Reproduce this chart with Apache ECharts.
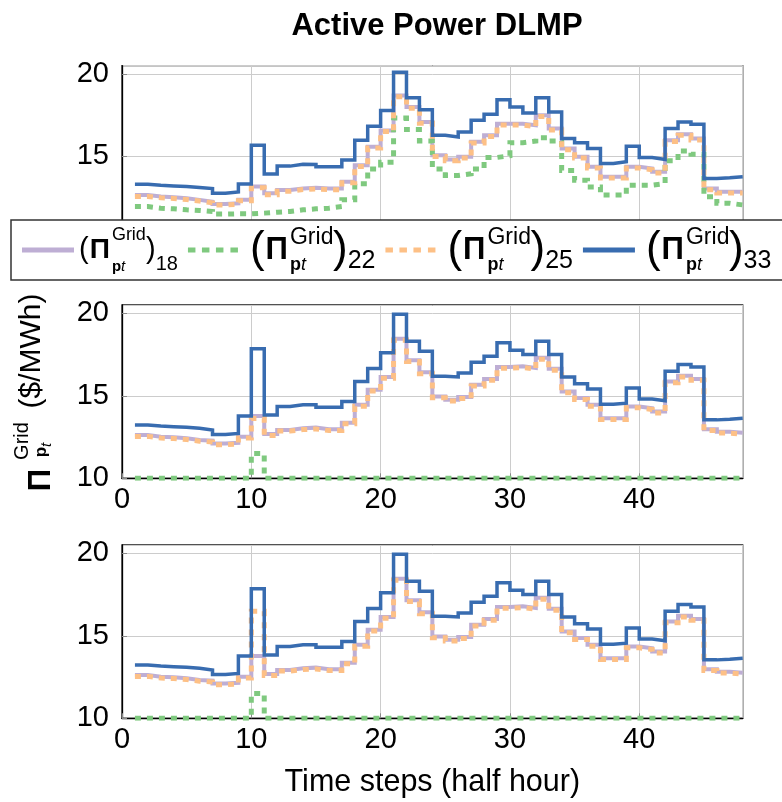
<!DOCTYPE html>
<html>
<head>
<meta charset="utf-8">
<script src="https://cdn.jsdelivr.net/npm/echarts@6/dist/echarts.min.js"></script>
<style>
  html, body { margin: 0; padding: 0; background: #fff; }
  #chart { width: 782px; height: 802px; }
</style>
</head>
<body>
<div id="chart"></div>
<script>
// Half-hour time steps of the day
const timeSteps = [1,2,3,4,5,6,7,8,9,10,11,12,13,14,15,16,17,18,19,20,21,22,23,24,
  25,26,27,28,29,30,31,32,33,34,35,36,37,38,39,40,41,42,43,44,45,46,47,48];

const xTicks = [0, 10, 20, 30, 40];
const yTicks = [10, 15, 20];
const busNames = ['18', '22', '25', '33'];

// Case 1 (top panel): DLMP at buses 18, 22, 25, 33 ($/MWh)
const bus18Top = [12.61,12.51,12.47,12.41,12.31,12.20,12.06,12.10,12.31,13.12,12.71,12.91,13.00,13.05,13.00,13.00,
  13.42,14.43,15.55,16.55,18.68,17.98,17.06,15.04,14.78,14.94,15.85,16.26,16.96,16.96,16.86,17.47,
  16.66,15.45,14.94,14.33,13.72,13.72,14.33,14.23,14.03,15.95,16.32,16.05,13.00,12.81,12.81,12.81];
const bus22Top = [11.90,11.80,11.76,11.70,11.66,11.60,11.44,11.46,11.46,11.50,11.56,11.60,11.70,11.76,11.80,11.90,
  12.31,13.30,14.20,14.60,17.30,16.60,15.90,14.20,13.80,13.90,14.20,14.90,15.00,15.80,15.90,16.10,
  15.90,14.10,13.50,13.10,12.60,12.60,13.20,13.20,13.30,14.70,15.30,15.10,12.50,12.10,12.00,12.00];
const bus25Top = [12.52,12.44,12.40,12.33,12.24,12.13,12.00,12.04,12.25,13.05,12.62,12.84,12.94,12.98,12.93,12.93,
  13.35,14.35,15.48,16.48,18.60,17.90,16.98,14.96,14.70,14.86,15.78,16.18,16.88,16.88,16.78,17.40,
  16.58,15.37,14.86,14.25,13.64,13.64,14.25,14.15,13.95,15.87,16.25,15.97,12.92,12.73,12.73,12.73];
const bus33Top = [13.26,13.20,13.16,13.12,13.06,13.00,12.71,12.79,13.28,15.65,13.89,14.37,14.49,14.47,14.33,14.33,
  14.74,15.95,16.80,17.77,20.10,18.54,17.81,16.26,16.15,16.46,17.17,17.53,18.42,17.98,17.61,18.54,
  17.67,16.05,15.79,15.45,14.53,14.64,15.59,14.90,14.78,16.66,17.06,16.92,13.62,13.66,13.72,13.72];

// Case 2 (middle panel)
const bus18Mid = [12.62,12.52,12.48,12.42,12.32,12.28,12.11,12.15,12.52,13.78,12.68,12.93,13.03,13.07,12.97,12.97,
  13.37,14.45,15.37,16.14,18.45,17.15,16.42,14.96,14.76,14.92,15.67,16.02,16.75,16.79,16.69,17.30,
  16.63,15.26,14.86,14.45,13.64,13.64,14.35,14.25,14.04,15.87,16.22,16.02,12.97,12.82,12.76,12.76];
const bus22Mid = [10,10,10,10,10,10,10,10,10,11.50,10,10,10,10,10,10,
  10,10,10,10,10,10,10,10,10,10,10,10,10,10,10,10,
  10,10,10,10,10,10,10,10,10,10,10,10,10,10,10,10];
const bus25Mid = [12.54,12.44,12.41,12.35,12.25,12.20,12.04,12.07,12.44,13.62,12.60,12.86,12.95,12.99,12.89,12.90,
  13.30,14.37,15.29,16.06,18.37,17.07,16.34,14.88,14.68,14.84,15.59,15.94,16.67,16.71,16.61,17.22,
  16.55,15.18,14.78,14.37,13.56,13.56,14.27,14.17,13.96,15.79,16.14,15.94,12.89,12.74,12.68,12.68];
const bus33Mid = [13.23,13.17,13.13,13.09,13.03,12.93,12.66,12.72,13.78,17.85,13.84,14.35,14.45,14.45,14.31,14.31,
  14.65,15.87,16.65,17.60,19.94,18.31,17.70,16.18,16.14,16.38,17.03,17.40,18.21,17.76,17.50,18.31,
  17.50,16.14,15.73,15.41,14.49,14.55,15.47,14.80,14.70,16.48,16.89,16.75,13.54,13.58,13.64,13.64];

// Case 3 (bottom panel)
const bus18Bot = [12.62,12.52,12.48,12.42,12.32,12.28,12.11,12.15,12.52,13.78,12.68,12.93,13.03,13.07,12.97,12.97,
  13.37,14.45,15.37,16.14,18.45,17.15,16.42,14.96,14.76,14.92,15.67,16.02,16.75,16.79,16.69,17.30,
  16.63,15.26,14.86,14.45,13.64,13.64,14.35,14.25,14.04,15.87,16.22,16.02,12.97,12.82,12.76,12.76];
const bus22Bot = [10,10,10,10,10,10,10,10,10,11.50,10,10,10,10,10,10,
  10,10,10,10,10,10,10,10,10,10,10,10,10,10,10,10,
  10,10,10,10,10,10,10,10,10,10,10,10,10,10,10,10];
const bus25Bot = [12.54,12.44,12.41,12.35,12.25,12.20,12.04,12.07,12.44,16.48,12.60,12.86,12.95,12.99,12.89,12.90,
  13.30,14.37,15.29,16.06,18.37,17.07,16.34,14.88,14.68,14.84,15.59,15.94,16.67,16.71,16.61,17.22,
  16.55,15.18,14.78,14.37,13.56,13.56,14.27,14.17,13.96,15.79,16.14,15.94,12.89,12.74,12.68,12.68];
const bus33Bot = [13.23,13.17,13.13,13.09,13.03,12.93,12.66,12.72,13.78,17.85,13.84,14.35,14.45,14.45,14.31,14.31,
  14.65,15.87,16.65,17.60,19.94,18.31,17.70,16.18,16.14,16.38,17.03,17.40,18.21,17.76,17.50,18.31,
  17.50,16.14,15.73,15.41,14.49,14.55,15.47,14.80,14.70,16.48,16.89,16.75,13.54,13.58,13.64,13.64];

const FONT = 'Liberation Sans';
const colors = { '18': '#beaed4', '22': '#7fc97f', '25': '#fdc086', '33': '#386cb0' };
const lineStyles = {
  '18': { width: 4, type: 'solid' },
  '22': { width: 5, type: [6, 6] },
  '25': { width: 5, type: [6, 6] },
  '33': { width: 3.5, type: 'solid' }
};
// Legend keys: solid bar, or four square dashes
const dashIcon = 'path://M0,0h7.5v5h-7.5zM14,0h7.5v5h-7.5zM28,0h7.5v5h-7.5zM42.5,0h7.5v5h-7.5z';
const legendIcons = { '18': 'rect', '22': dashIcon, '25': dashIcon, '33': 'rect' };

const panels = [
  { top: 65.7, height: 172, showX: false, data: [bus18Top, bus22Top, bus25Top, bus33Top] },
  { top: 305, height: 173.3, showX: true, data: [bus18Mid, bus22Mid, bus25Mid, bus33Mid] },
  { top: 545, height: 173.3, showX: true, data: [bus18Bot, bus22Bot, bus25Bot, bus33Bot] }
];

const grids = [], xAxes = [], yAxes = [], series = [];
panels.forEach((p, i) => {
  grids.push({
    left: 122, right: 39.3, top: p.top, height: p.height,
    show: true, borderColor: '#1a1a1a', borderWidth: 1.3, backgroundColor: 'transparent',
    outerBoundsMode: 'none'
  });
  xAxes.push({
    type: 'value', gridIndex: i, min: 0, max: 48, interval: 10,
    axisLine: { show: true, lineStyle: { color: '#000', width: 1.3 } },
    axisTick: { show: true, inside: true, length: 5, lineStyle: { color: '#8a8a8a' } },
    axisLabel: {
      show: p.showX, showMaxLabel: false, fontFamily: FONT, fontSize: 29, color: '#000', margin: 7,
      formatter: v => (xTicks.indexOf(v) >= 0 ? String(v) : '')
    },
    splitLine: { show: true, lineStyle: { color: '#cccccc', width: 1 } },
    name: i === 2 ? 'Time steps (half hour)' : '',
    nameLocation: 'middle', nameGap: 49,
    nameTextStyle: { fontFamily: FONT, fontSize: 30.5, color: '#000' }
  });
  yAxes.push({
    type: 'value', gridIndex: i, min: 10, max: 20.5, interval: 5,
    axisLine: { show: true, lineStyle: { color: '#000', width: 1.3 } },
    axisTick: { show: true, inside: true, length: 5, lineStyle: { color: '#8a8a8a' } },
    axisLabel: {
      showMaxLabel: false, fontFamily: FONT, fontSize: 29, color: '#000', margin: 13,
      formatter: v => (yTicks.indexOf(v) >= 0 ? String(v) : '')
    },
    splitLine: { show: true, lineStyle: { color: '#cccccc', width: 1 } }
  });
  busNames.forEach((b, k) => {
    series.push({
      name: b, type: 'line', step: 'end', xAxisIndex: i, yAxisIndex: i,
      showSymbol: false, symbol: 'none', clip: true, z: 2 + k,
      data: timeSteps.map((t, j) => [t, p.data[k][j]]),
      itemStyle: { color: colors[b] },
      lineStyle: { color: colors[b], width: lineStyles[b].width, type: lineStyles[b].type, cap: 'butt', join: 'miter' }
    });
  });
});

// Legend labels: (Π^Grid_{p_t})_bus
const legendLabel = {
  '18': '{a|(}{pa|Π}{ga|Grid}{sa|p}{ta|t}{a|)}{na|18}',
  '22': '{bl|(}{pb|Π}{gb|Grid}{sb|p}{tb|t}{b|)}{nb|22}',
  '25': '{bl|(}{pb|Π}{gb|Grid}{sb|p}{tb|t}{b|)}{nb|25}',
  '33': '{bl|(}{pb|Π}{gb|Grid}{sb|p}{tb|t}{b|)}{nb|33}'
};
const LH = 48;
const legendRich = {
  a:  { fontFamily: FONT, fontSize: 29, lineHeight: LH, color: '#000' },
  pa: { fontFamily: FONT, fontSize: 28, fontWeight: 'bold', lineHeight: LH, color: '#000', padding: [0, 2, 0, 1] },
  ga: { fontFamily: FONT, fontSize: 18, lineHeight: 30, verticalAlign: 'top', width: 0, color: '#000' },
  sa: { fontFamily: FONT, fontSize: 15, fontWeight: 'bold', lineHeight: 34, verticalAlign: 'bottom', color: '#000' },
  ta: { fontFamily: FONT, fontSize: 15, fontStyle: 'italic', lineHeight: 34, verticalAlign: 'bottom', width: 25, color: '#000' },
  na: { fontFamily: FONT, fontSize: 20, lineHeight: 36, verticalAlign: 'bottom', color: '#000' },
  bl: { fontFamily: FONT, fontSize: 44, lineHeight: LH, color: '#000', padding: [0, 0, 0, 6] },
  b:  { fontFamily: FONT, fontSize: 44, lineHeight: LH, color: '#000' },
  pb: { fontFamily: FONT, fontSize: 31, fontWeight: 'bold', lineHeight: LH, color: '#000', padding: [0, 2, 0, 1] },
  gb: { fontFamily: FONT, fontSize: 23, lineHeight: 32, verticalAlign: 'top', width: 0, color: '#000' },
  sb: { fontFamily: FONT, fontSize: 18, fontWeight: 'bold', lineHeight: 32, verticalAlign: 'bottom', color: '#000' },
  tb: { fontFamily: FONT, fontSize: 18, fontStyle: 'italic', lineHeight: 32, verticalAlign: 'bottom', width: 32, color: '#000' },
  nb: { fontFamily: FONT, fontSize: 25, lineHeight: 34, verticalAlign: 'bottom', color: '#000' }
};

const option = {
  animation: false,
  backgroundColor: '#fff',
  title: {
    text: 'Active Power DLMP', left: 432, top: 6, textAlign: 'center',
    textStyle: { fontFamily: FONT, fontSize: 31, fontWeight: 'bold', color: '#000' }
  },
  legend: {
    data: busNames.map(b => ({ name: b, icon: legendIcons[b] })),
    left: 11, top: 220, width: 900, orient: 'horizontal',
    itemWidth: 52, itemHeight: 5, itemGap: 10,
    padding: [6, 20, 6, 11],
    borderColor: '#333', borderWidth: 1.5, backgroundColor: '#fff',
    formatter: name => legendLabel[name],
    textStyle: { fontFamily: FONT, color: '#000', rich: legendRich },
    z: 10
  },
  grid: grids,
  xAxis: xAxes,
  yAxis: yAxes,
  series: series,
  graphic: [
    { type: 'text', x: 32, y: 351, rotation: Math.PI / 2, z: 20,
      style: { text: '($/MWh)', font: '30px "Liberation Sans"', fill: '#000', align: 'center', verticalAlign: 'middle' } },
    { type: 'text', x: 41, y: 480, rotation: Math.PI / 2, z: 20,
      style: { text: 'Π', font: 'bold 31px "Liberation Sans"', fill: '#000', align: 'center', verticalAlign: 'middle' } },
    { type: 'text', x: 22, y: 441, rotation: Math.PI / 2, z: 20,
      style: { text: 'Grid', font: '20px "Liberation Sans"', fill: '#000', align: 'center', verticalAlign: 'middle' } },
    { type: 'text', x: 41, y: 450, rotation: Math.PI / 2, z: 20,
      style: { text: '{p|p}{t|t}', align: 'center', verticalAlign: 'middle',
        rich: {
          p: { fontFamily: FONT, fontSize: 17, fontWeight: 'bold', fill: '#000', color: '#000' },
          t: { fontFamily: FONT, fontSize: 15, fontStyle: 'italic', fill: '#000', color: '#000', lineHeight: 26, verticalAlign: 'bottom' }
        } } }
  ]
};

const chart = echarts.init(document.getElementById('chart'), null, { renderer: 'canvas', width: 782, height: 802 });
chart.setOption(option);
</script>
</body>
</html>
